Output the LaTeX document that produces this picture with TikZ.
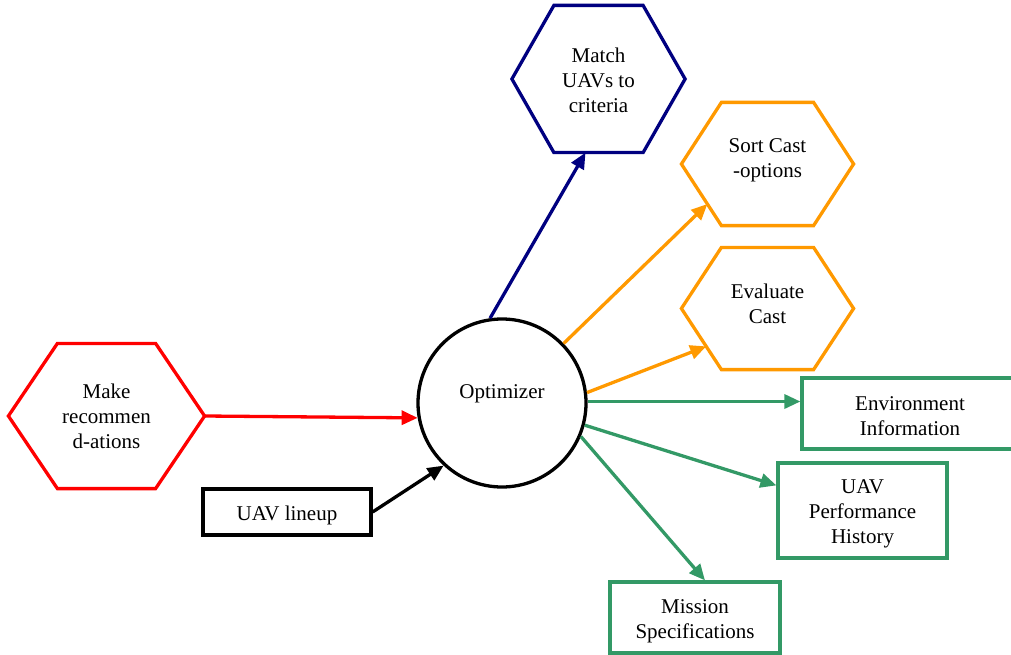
\documentclass[tikz,border=0pt]{standalone}
\usepackage{fontspec}
\setmainfont{Liberation Serif}
\usetikzlibrary{arrows.meta,calc}
\definecolor{navyc}{RGB}{0,0,128}
\definecolor{orangec}{RGB}{255,153,0}
\definecolor{greenc}{RGB}{51,153,102}
\definecolor{redc}{RGB}{255,0,0}

% hexagon outline drawn over a rectangular node: #1 style, #2 node, #3 corner inset
\newcommand\drawhex[3]{%
  \draw[#1] (#2.west) -- ([xshift=#3]#2.north west) -- ([xshift=-#3]#2.north east)
    -- (#2.east) -- ([xshift=-#3]#2.south east) -- ([xshift=#3]#2.south west) -- cycle;}

\begin{document}
\begin{tikzpicture}[x=1pt,y=-1pt,
  every node/.style={font=\fontsize{21}{25}\selectfont, align=center, inner sep=0pt},
  hexbox/.style={minimum width=#1, outer sep=1.6pt},
  hexline/.style={line width=3.3pt, line join=miter},
  rectbox/.style={draw=#1, line width=3.3pt, outer sep=1.6pt},
  arr/.style={line width=3.3pt, -{Triangle[length=16pt,width=14pt]}}]
\useasboundingbox (0,0) rectangle (1011,655);

% task hexagons
\node[hexbox=170, minimum height=144] (match) at (598.5,79) {};
\node (matchT) at (598.5,80) {Match\\UAVs to\\criteria};
\drawhex{hexline, navyc}{match}{42}

\node[hexbox=169, minimum height=120] (sort) at (767.5,164) {};
\node (sortT) at (767.5,160.5) {Sort Cast\\-options};
\drawhex{hexline, orangec}{sort}{40}

\node[hexbox=169, minimum height=119] (eval) at (767.5,308.5) {};
\node (evalT) at (767.5,304) {Evaluate\\Cast};
\drawhex{hexline, orangec}{eval}{40}

\node[hexbox=193, minimum height=142] (mk) at (106.5,416) {};
\node (mkT) at (106.5,416) {Make\\recommen\\d-ations};
\drawhex{hexline, redc}{mk}{49}

% central optimizer
\node[circle, draw=black, line width=3.3pt, minimum size=168pt] (opt) at (502,403) {};
\node (optT) at (502,394) {Optimizer};

% data boxes
\node[rectbox=black, minimum width=168pt, minimum height=46pt] (lineup) at (287,512) {};
\node (lineupT) at (287,515) {UAV lineup};
\node[rectbox=greenc, minimum width=216pt, minimum height=71pt] (env) at (910,413.5) {};
\node (envT) at (910,416) {Environment\\Information};
\node[rectbox=greenc, minimum width=169pt, minimum height=95pt] (perf) at (862.5,510.5) {};
\node (perfT) at (862.5,513.5) {UAV\\Performance\\History};
\node[rectbox=greenc, minimum width=170pt, minimum height=71pt] (mission) at (695,617.5) {};
\node (missionT) at (695,621) {Mission\\Specifications};

% connectors
\draw[arr, navyc] (opt.98) -- ([xshift=-13pt]match.south);
\draw[arr, orangec] (opt.44) -- ($(sort.west)!0.65!([xshift=40pt]sort.south west)$);
\draw[arr, orangec] (opt.7) -- ($(eval.west)!0.62!([xshift=40pt]eval.south west)$);
\draw[arr, greenc] (opt.1) -- (opt.1 -| env.west);
\draw[arr, greenc] (opt.-15) -- ([yshift=-24pt]perf.north west);
\draw[arr, greenc] (opt.-23) -- ([xshift=10pt]mission.north);
\draw[arr, redc] (mk.east) -- (opt.190);
\draw[arr, black] (lineup.east) -- (opt.227);
\end{tikzpicture}
\end{document}
